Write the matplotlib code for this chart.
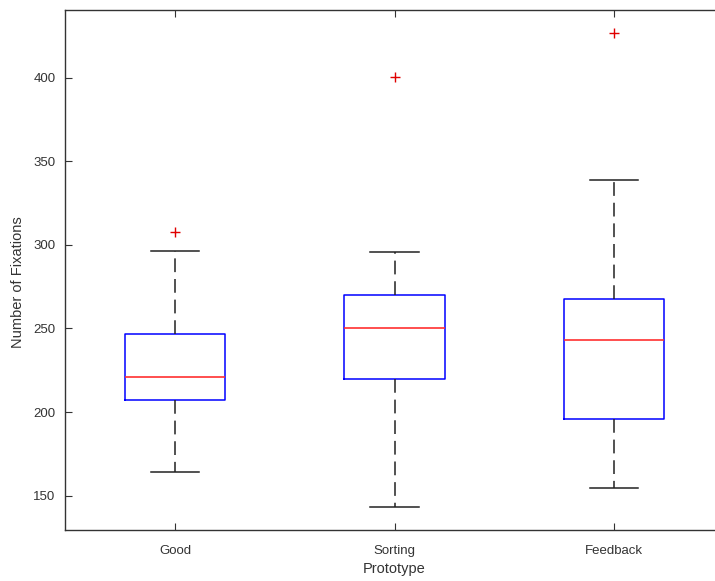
import matplotlib
matplotlib.use("Agg")
import matplotlib.pyplot as plt

categories = ["Good", "Sorting", "Feedback"]
whislo = [164.4, 143.4, 154.4]
q1 = [207.2, 219.7, 195.8]
med = [220.9, 250.0, 243.2]
q3 = [246.4, 270.3, 267.5]
whishi = [296.4, 295.6, 338.6]
fliers = [[307.4], [400.6], [426.9]]
yticks = [150, 200, 250, 300, 350, 400]

plt.rcParams['font.family'] = ['Liberation Sans', 'DejaVu Sans']

fig = plt.figure(figsize=(7.15, 5.81), dpi=100)
ax = fig.add_axes([65.25 / 715, 51 / 581, 658.5 / 715, 520 / 581])

stats = []
for i, c in enumerate(categories):
    stats.append(dict(label=c, whislo=whislo[i], q1=q1[i], med=med[i],
                      q3=q3[i], whishi=whishi[i], fliers=fliers[i]))

ax.bxp(stats, positions=[1, 2, 3], widths=0.456,
       boxprops=dict(color='#0000ff', linewidth=1.1),
       medianprops=dict(color='#ff3030', linewidth=1.2),
       whiskerprops=dict(color='#222222', linewidth=1.1, linestyle=(0, (9, 4.5))),
       capprops=dict(color='#222222', linewidth=1.1),
       capwidths=0.223,
       flierprops=dict(marker='+', markeredgecolor='#e00000', markersize=7,
                       markeredgewidth=1.0, linestyle='none'))

ax.set_xlim(0.5, 3.5)
ax.set_ylim(129.5, 440.4)
ax.set_yticks(yticks)
ax.set_xticks([1, 2, 3])
ax.set_xticklabels(categories)

for s in ax.spines.values():
    s.set_color('#333333')
    s.set_linewidth(1.0)

ax.tick_params(axis='both', direction='in', length=5, width=0.8, colors='#333333',
               labelsize=9.5, labelcolor='#333333', top=True, right=True)
ax.tick_params(axis='x', pad=11)
ax.tick_params(axis='y', pad=7)

ax.set_xlabel("Prototype", fontsize=10.5, color='#333333')
ax.set_ylabel("Number of Fixations", fontsize=10.5, color='#333333')
ax.xaxis.set_label_coords(0.5, -(569 - 530) / 520, transform=ax.transAxes)
ax.xaxis.label.set_va('center')
ax.yaxis.set_label_coords((18 - 65.25) / 658.5, (581 - 282 - 51) / 520, transform=ax.transAxes)
ax.yaxis.label.set_va('center')

fig.savefig("out.png", dpi=100)
